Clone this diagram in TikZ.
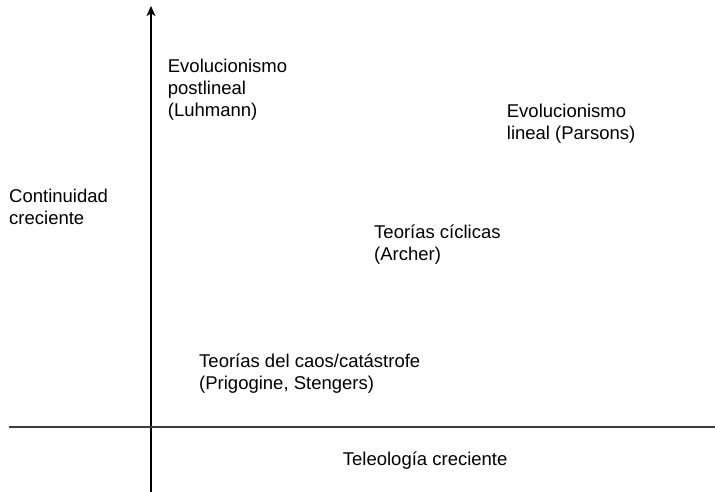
\documentclass[tikz,border=0pt]{standalone}
\usepackage{fontspec}
\setmainfont{Liberation Sans}
\usetikzlibrary{arrows.meta}
\begin{document}
\begin{tikzpicture}[x=1pt,y=-1pt,
  lbl/.style={anchor=base west,inner sep=0pt,align=left,font=\fontsize{18.5}{22}\selectfont},
  axisline/.style={line width=1.2pt,black},
  hline/.style={line width=1.3pt,draw={rgb,255:red,60;green,60;blue,60}}]
\useasboundingbox (0,0) rectangle (715,492);
\coordinate (vbot) at (151,492);
\coordinate (vtop) at (151,6);
\coordinate (hl) at (9,427);
\coordinate (hr) at (715,427);
\draw[axisline,-{Stealth[length=10pt,width=9pt,inset=2.5pt]}] (vbot) -- (vtop);
\draw[hline] (hl) -- (hr);
% anchor base = baseline of the last line
\node[lbl] (luh) at (167.7,116.7) {Evolucionismo\\postlineal\\(Luhmann)};
\node[lbl] (cont) at (9,224) {Continuidad\\creciente};
\node[lbl] (par) at (506.7,139.7) {Evolucionismo\\lineal (Parsons)};
\node[lbl] (arc) at (374,260.3) {Teorías cíclicas\\(Archer)};
\node[lbl] (pri) at (199,389.7) {Teorías del caos/catástrofe\\(Prigogine, Stengers)};
\node[lbl] (tel) at (342.7,465) {Teleología creciente};
\end{tikzpicture}
\end{document}
